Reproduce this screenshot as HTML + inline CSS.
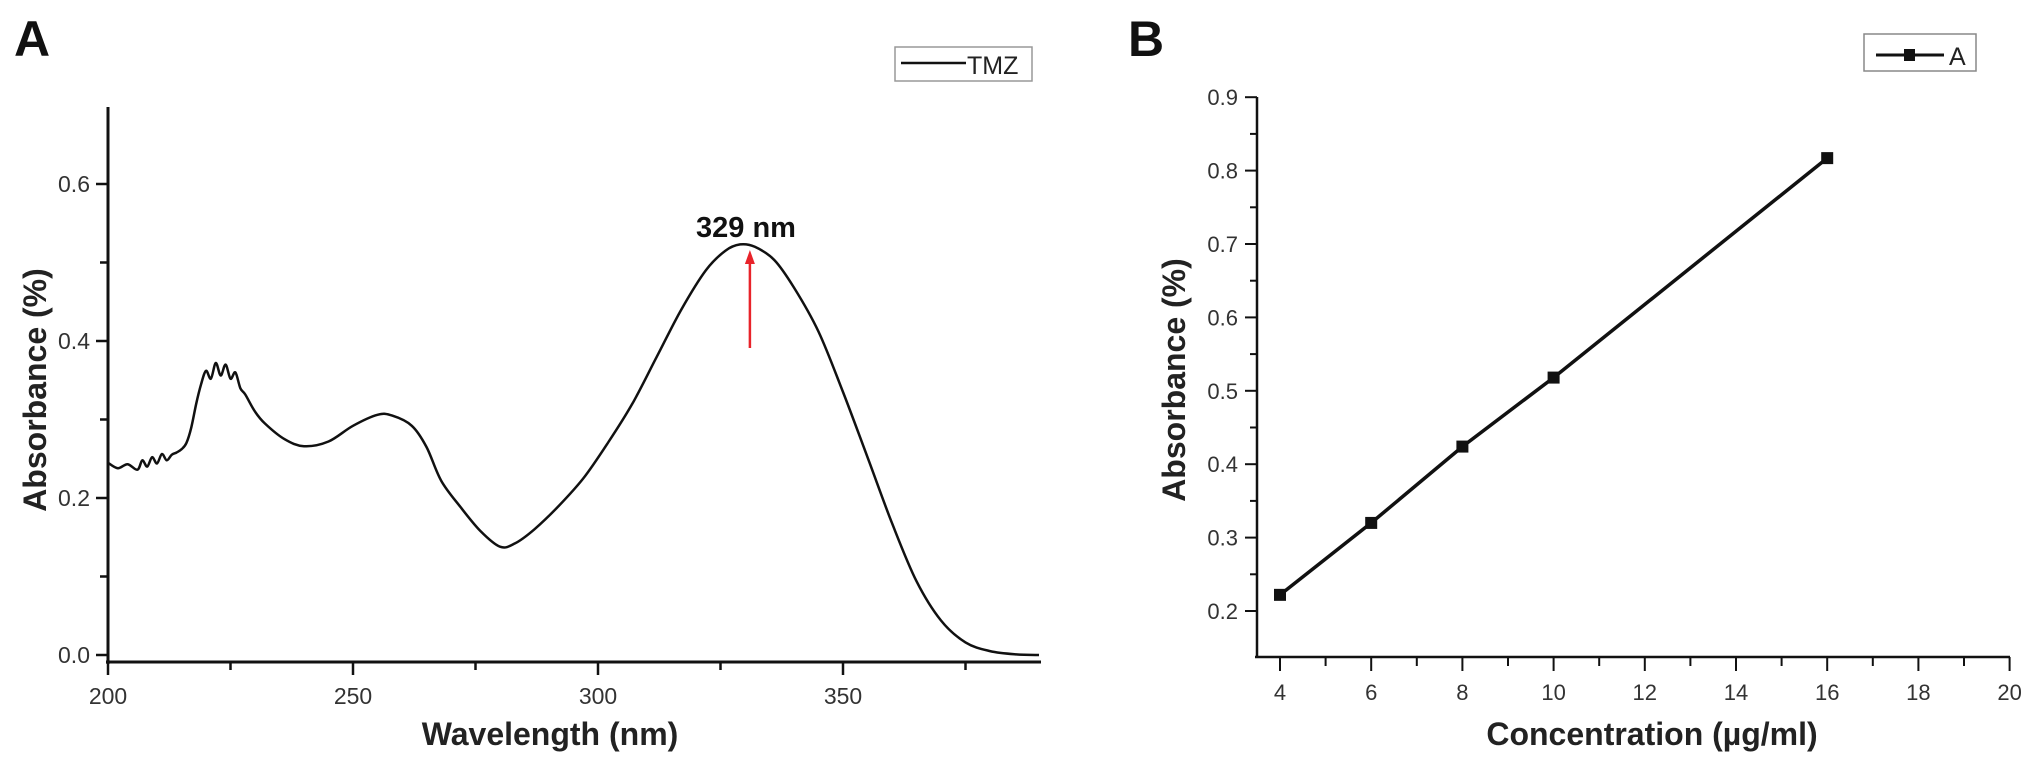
<!DOCTYPE html>
<html><head><meta charset="utf-8"><style>
html,body{margin:0;padding:0;background:#fff;}
svg{display:block;font-family:"Liberation Sans",Arial,sans-serif;}
</style></head><body>
<svg id="c" width="2031" height="764" viewBox="0 0 2031 764" xmlns="http://www.w3.org/2000/svg">
<text x="14" y="56" font-size="50" font-weight="bold" fill="#111">A</text>
<text x="1128" y="56" font-size="50" font-weight="bold" fill="#111">B</text>
</svg>
<script>
// Panel A data
const wavelengths = [200,202,204,206,207,208,209,210,211,212,213,214,215,216,217,218,219,220,221,222,223,224,225,226,227,228,230,232,236,240,245,250,255,258,262,265,268,272,276,280,283,287,292,297,302,307,312,317,322,326,329,332,336,340,345,350,355,360,365,370,375,380,385,390];
const absorbA = [0.245,0.238,0.243,0.236,0.248,0.240,0.252,0.244,0.256,0.248,0.255,0.258,0.262,0.270,0.290,0.320,0.345,0.362,0.352,0.372,0.356,0.370,0.352,0.360,0.340,0.332,0.310,0.295,0.275,0.266,0.272,0.292,0.306,0.305,0.292,0.265,0.222,0.188,0.158,0.138,0.142,0.160,0.190,0.225,0.270,0.320,0.380,0.440,0.490,0.515,0.523,0.520,0.503,0.468,0.412,0.335,0.252,0.168,0.094,0.044,0.016,0.005,0.001,0.0];
const xTicksA = [200,250,300,350];
const yTicksA = [0.0,0.2,0.4,0.6];
const peakLabel = "329 nm";
const peakX = [331];
// Panel B data
const conc = [4,6,8,10,16];
const absorbB = [0.222,0.320,0.424,0.518,0.817];
const xTicksB = [4,6,8,10,12,14,16,18,20];
const yTicksB = [0.2,0.3,0.4,0.5,0.6,0.7,0.8,0.9];

const svg = document.getElementById('c');
const NS = 'http://www.w3.org/2000/svg';
function mk(tag, attrs, parent){
  const e = document.createElementNS(NS, tag);
  for (const k in attrs) e.setAttribute(k, attrs[k]);
  (parent||svg).appendChild(e);
  return e;
}
const xA = v => 108 + (v-200)*4.9;
const yA = v => 655 - v*785;
const xB = v => 1280 + (v-4)*45.6;
const yB = v => 611 - (v-0.2)*734;

function smoothPath(pts){
  let s = 'M'+pts[0][0].toFixed(1)+','+pts[0][1].toFixed(1);
  for (let i=0;i<pts.length-1;i++){
    const p0 = pts[Math.max(0,i-1)], p1 = pts[i], p2 = pts[i+1], p3 = pts[Math.min(pts.length-1,i+2)];
    const c1x = p1[0]+(p2[0]-p0[0])/6, c1y = p1[1]+(p2[1]-p0[1])/6;
    const c2x = p2[0]-(p3[0]-p1[0])/6, c2y = p2[1]-(p3[1]-p1[1])/6;
    s += ` C${c1x.toFixed(1)},${c1y.toFixed(1)} ${c2x.toFixed(1)},${c2y.toFixed(1)} ${p2[0].toFixed(1)},${p2[1].toFixed(1)}`;
  }
  return s;
}

// Panel A axes
const gA = mk('g', {});


mk('line', {x1:108,y1:107,x2:108,y2:664,stroke:'#111','stroke-width':3}, gA);
mk('line', {x1:106,y1:662,x2:1041,y2:662,stroke:'#111','stroke-width':3}, gA);
for (let v=200; v<=375; v+=25){
  const major = xTicksA.includes(v);
  mk('line',{x1:xA(v),y1:662,x2:xA(v),y2:major?675:670,stroke:'#111','stroke-width':2.5},gA);
}
xTicksA.forEach(v=>{
  const t = mk('text',{x:xA(v),y:704,'font-size':23,'text-anchor':'middle',fill:'#333'},gA);
  t.textContent = v;
  
  
});
for (let i=0;i<=6;i++){
  const v = i*0.1;
  const major = i%2===0;
  mk('line',{x1:major?96:100,y1:yA(v),x2:108,y2:yA(v),stroke:'#111','stroke-width':2.5},gA);
}
yTicksA.forEach(v=>{
  const t = mk('text',{x:90,y:yA(v)+8,'font-size':23,'text-anchor':'end',fill:'#333'},gA);
  t.textContent = v.toFixed(1);
  
  
});
let t = mk('text',{x:550,y:745,'font-size':32,'font-weight':'bold','text-anchor':'middle',fill:'#222'});
t.textContent = 'Wavelength (nm)';


t = mk('text',{x:0,y:0,'font-size':32,'font-weight':'bold','text-anchor':'middle',fill:'#222',transform:'translate(46,390) rotate(-90)'});
t.textContent = 'Absorbance (%)';



// spectrum
const pts = wavelengths.map((w,i)=>[xA(w), yA(absorbA[i])]);
const sp = mk('path',{d:smoothPath(pts),fill:'none',stroke:'#111','stroke-width':2.5,'stroke-linejoin':'round'});



// peak annotation
const ax = xA(peakX[0]);
const ar = mk('g',{});


mk('line',{x1:ax,y1:348,x2:ax,y2:262,stroke:'#e8232a','stroke-width':2.5},ar);
mk('polygon',{points:`${ax-5},264 ${ax+5},264 ${ax},250`,fill:'#e8232a'},ar);
t = mk('text',{x:746,y:237,'font-size':29,'font-weight':'bold','text-anchor':'middle',fill:'#111'});
t.textContent = peakLabel;



// legend A
const lgA = mk('g',{});


mk('rect',{x:895,y:47,width:137,height:34,fill:'#fff',stroke:'#999','stroke-width':1.5},lgA);
mk('line',{x1:901,y1:63,x2:966,y2:63,stroke:'#111','stroke-width':2.5},lgA);
t = mk('text',{x:967,y:74,'font-size':25,fill:'#222'},lgA);
t.textContent = 'TMZ';

// Panel B axes
const gB = mk('g',{});


mk('line',{x1:1257,y1:97,x2:1257,y2:658,stroke:'#111','stroke-width':2.5},gB);
mk('line',{x1:1255,y1:657,x2:2010,y2:657,stroke:'#111','stroke-width':2.5},gB);
for (let v=4; v<=20; v+=1){
  const major = v%2===0;
  mk('line',{x1:xB(v),y1:657,x2:xB(v),y2:major?671:666,stroke:'#111','stroke-width':2},gB);
}
xTicksB.forEach(v=>{
  const tt = mk('text',{x:xB(v),y:700,'font-size':22,'text-anchor':'middle',fill:'#333'},gB);
  tt.textContent = v;
  
  
});
for (let i=0;i<=14;i++){
  const v = 0.2 + i*0.05;
  const major = i%2===0;
  mk('line',{x1:major?1245:1250,y1:yB(v),x2:1257,y2:yB(v),stroke:'#111','stroke-width':2},gB);
}
yTicksB.forEach(v=>{
  const tt = mk('text',{x:1238,y:yB(v)+8,'font-size':22,'text-anchor':'end',fill:'#333'},gB);
  tt.textContent = v.toFixed(1);
  
  
});
t = mk('text',{x:1652,y:745,'font-size':32,'font-weight':'bold','text-anchor':'middle',fill:'#222'});
t.textContent = 'Concentration (\u00b5g/ml)';


t = mk('text',{x:0,y:0,'font-size':32,'font-weight':'bold','text-anchor':'middle',fill:'#222',transform:'translate(1185,380) rotate(-90)'});
t.textContent = 'Absorbance (%)';



// series B
const d = conc.map((c,i)=>(i?'L':'M')+xB(c).toFixed(1)+','+yB(absorbB[i]).toFixed(1)).join(' ');
const lb = mk('path',{d:d,fill:'none',stroke:'#111','stroke-width':3.5});


conc.forEach((c,i)=>{
  const r = mk('rect',{x:xB(c)-6,y:yB(absorbB[i])-6,width:12,height:12,fill:'#111'});
  
  
});

// legend B
const lgB = mk('g',{});


mk('rect',{x:1864,y:34,width:112,height:37,fill:'#fff',stroke:'#888','stroke-width':1.5},lgB);
mk('line',{x1:1876,y1:55,x2:1944,y2:55,stroke:'#111','stroke-width':3},lgB);
mk('rect',{x:1904,y:49,width:11,height:12,fill:'#111'},lgB);
t = mk('text',{x:1949,y:65,'font-size':25,fill:'#222'},lgB);
t.textContent = 'A';
</script>
</body></html>
